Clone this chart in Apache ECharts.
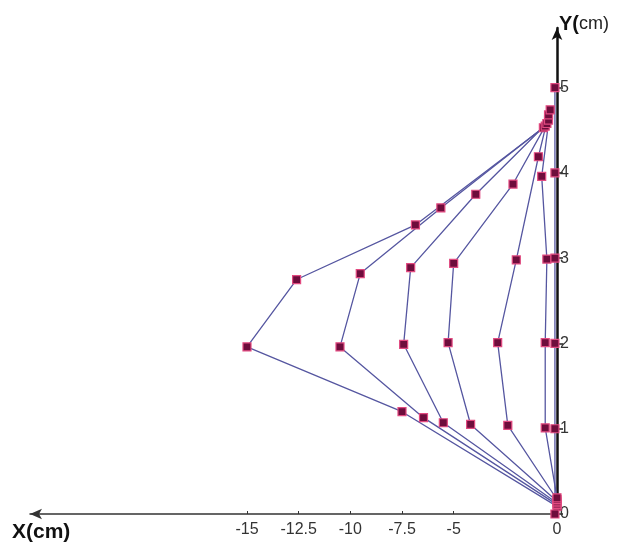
<!DOCTYPE html>
<html>
<head>
<meta charset="utf-8">
<script src="https://cdn.jsdelivr.net/npm/echarts@6/dist/echarts.min.js"></script>
<style>
    html, body { margin: 0; padding: 0; background: #fff; }
    #myChart { width: 626px; height: 548px; }
</style>
</head>
<body>
<div id="myChart"></div>
<script>
// tick labels
var ticksX = [-15, -12.5, -10, -7.5, -5, 0];
var ticksY = [0, 1, 2, 3, 4, 5];

// profiles (cm), bottom -> top
var x1 = [0, -7.5, -15, -12.6, -6.85, -0.66];
var y1 = [0.09, 1.2, 1.96, 2.75, 3.39, 4.53];

var x2 = [0, -6.46, -10.5, -9.52, -5.62, -0.57];
var y2 = [0.11, 1.13, 1.96, 2.82, 3.59, 4.55];

var x3 = [0, -5.5, -7.42, -7.08, -3.93, -0.49];
var y3 = [0.13, 1.07, 1.99, 2.89, 3.75, 4.58];

var x4 = [0, -4.18, -5.27, -5.0, -2.13, -0.41];
var y4 = [0.15, 1.05, 2.01, 2.94, 3.87, 4.62];

var x5 = [0, -2.38, -2.87, -1.97, -0.9, -0.41];
var y5 = [0.17, 1.04, 2.01, 2.98, 4.19, 4.68];

var x6 = [0, -0.57, -0.57, -0.49, -0.74, -0.33];
var y6 = [0.19, 1.01, 2.01, 2.99, 3.96, 4.74];

var x7 = [-0.1, -0.1, -0.1, -0.1, -0.1, -0.1];
var y7 = [0, 1, 2, 3, 4, 5];

var curves = [[x1, y1], [x2, y2], [x3, y3], [x4, y4], [x5, y5], [x6, y6], [x7, y7]];

var myChart = echarts.init(document.getElementById('myChart'));

var series = curves.map(function (c, i) {
    return {
        name: 'c' + (i + 1),
        type: 'line',
        data: c[0].map(function (v, k) { return [v, c[1][k]]; }),
        symbol: 'rect',
        symbolSize: 8,
        showAllSymbol: true,
        lineStyle: { color: '#5556a0', width: 1.3 },
        itemStyle: { color: '#6e0d3c', borderColor: '#e24a80', borderWidth: 1.2 },
        emphasis: { disabled: true }
    };
});

myChart.setOption({
    animation: false,
    grid: { left: 30, right: 69, top: 28, bottom: 34 },
    xAxis: {
        type: 'value',
        min: -25.5,
        max: 0,
        position: 'bottom',
        splitLine: { show: false },
        axisLine: {
            onZero: false,
            symbol: ['arrow', 'none'],
            symbolSize: [8, 12],
            lineStyle: { color: '#333', width: 1.5 }
        },
        axisTick: { show: true, inside: true, length: 3, customValues: ticksX, lineStyle: { color: '#333' } },
        axisLabel: {
            customValues: ticksX,
            fontSize: 16,
            color: '#333',
            margin: 8,
            fontFamily: 'Liberation Sans'
        }
    },
    yAxis: {
        type: 'value',
        min: 0,
        max: 5.7,
        position: 'right',
        splitLine: { show: false },
        axisLine: {
            onZero: false,
            symbol: ['none', 'arrow'],
            symbolSize: [8, 12],
            lineStyle: { color: '#111', width: 2.5 }
        },
        axisTick: { show: true, length: 6, customValues: ticksY, lineStyle: { color: '#222', width: 1.5 } },
        axisLabel: {
            customValues: ticksY,
            fontSize: 16,
            color: '#333',
            margin: 3,
            fontFamily: 'Liberation Sans'
        }
    },
    graphic: [
        {
            type: 'text', left: 12, top: 522,
            style: { text: 'X(cm)', fontSize: 21, fontWeight: 'bold', fill: '#111', fontFamily: 'Liberation Sans' }
        },
        {
            type: 'text', left: 559, top: 14,
            style: {
                text: '{b|Y(}{n|cm)}',
                rich: {
                    b: { fontSize: 20, fontWeight: 'bold', fill: '#111', fontFamily: 'Liberation Sans' },
                    n: { fontSize: 18, fill: '#222', fontFamily: 'Liberation Sans' }
                }
            }
        }
    ],
    series: series
});
</script>
</body>
</html>
